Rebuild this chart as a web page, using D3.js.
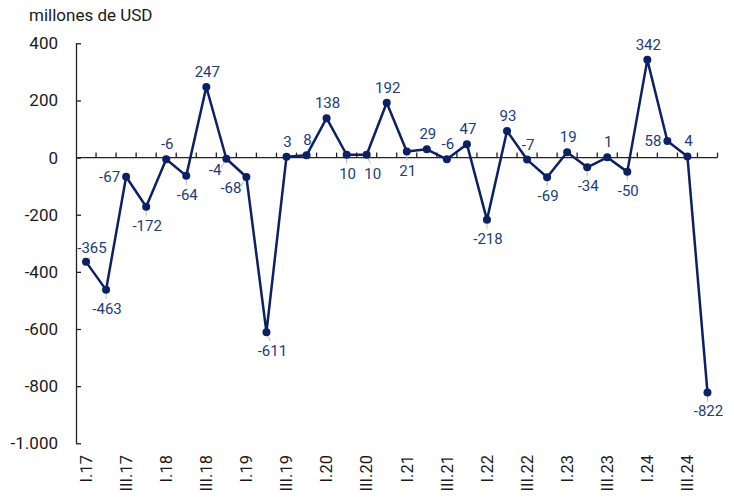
<!DOCTYPE html>
<html><head><meta charset="utf-8">
<script src="https://cdn.jsdelivr.net/npm/d3@7/dist/d3.min.js"></script>
<style>
body{margin:0;background:#fff;}
text{font-family:Roboto,"Noto Sans",sans-serif;}
</style></head>
<body><svg id="c" width="734" height="497"></svg>
<script>
const quarters = ["I.17","II.17","III.17","IV.17","I.18","II.18","III.18","IV.18","I.19","II.19","III.19","IV.19","I.20","II.20","III.20","IV.20","I.21","II.21","III.21","IV.21","I.22","II.22","III.22","IV.22","I.23","II.23","III.23","IV.23","I.24","II.24","III.24","IV.24"];
const values = [-365,-463,-67,-172,-6,-64,247,-4,-68,-611,3,8,138,10,10,192,21,29,-6,47,-218,93,-7,-69,19,-34,1,-50,342,58,4,-822];
const labelPlacement = ["ar","b","l","b","a","b","a","bl","bl","br","a","a","a","b","br","a","b","a","a","a","b","a","a","b","a","b","a","b","a","l","a","b"];
const yTicks = [400,200,0,-200,-400,-600,-800,-1000];
const unitLabel = "millones de USD";

const svg = d3.select("#c");
const x = d3.scaleBand().domain(quarters).range([76, 717.5]).padding(0);
const y = d3.scaleLinear().domain([-1000, 400]).range([443.3, 43.3]);
const cx = d => x(d) + x.bandwidth()/2;
const loc = d3.formatLocale({decimal:",", thousands:".", grouping:[3], currency:["",""], minus:"-"});
const fmt = loc.format(",d");

svg.append("text").attr("x", 29).attr("y", 21).attr("font-size", 17).attr("fill", "#1a1a1a").text(unitLabel);

// y axis
const yAxis = d3.axisLeft(y).tickValues(yTicks).tickFormat(fmt).tickSizeInner(-5).tickSizeOuter(0).tickPadding(18);
const gy = svg.append("g").attr("transform", "translate(76,0)").call(yAxis);
gy.select(".domain").attr("stroke", "#222").attr("stroke-width", 1.3);
gy.selectAll(".tick line").attr("stroke", "#222").attr("stroke-width", 1.3);
gy.selectAll(".tick text").attr("font-size", 17).attr("fill", "#1a1a1a").attr("font-family", "Roboto");

// x axis at zero
const y0 = y(0);
svg.append("line").attr("x1", 76).attr("x2", 717.5).attr("y1", y0).attr("y2", y0).attr("stroke", "#222").attr("stroke-width", 1.3);
svg.selectAll(".xt").data(quarters).enter().append("line")
  .attr("x1", d => x(d) + x.bandwidth()).attr("x2", d => x(d) + x.bandwidth())
  .attr("y1", y0).attr("y2", y0 - 5).attr("stroke", "#222").attr("stroke-width", 1.3);

// x labels (every other)
svg.selectAll(".xl").data(quarters.filter((d,i) => i % 2 === 0)).enter().append("text")
  .attr("transform", d => `translate(${cx(d)},455) rotate(-90)`)
  .attr("text-anchor", "end").attr("dy", "0.35em").attr("font-size", 16.5).attr("fill", "#1a1a1a")
  .text(d => d);

// line
const data = quarters.map((q,i) => ({q, v: values[i], p: labelPlacement[i]}));
svg.append("path").datum(data)
  .attr("d", d3.line().x(d => cx(d.q)).y(d => y(d.v)))
  .attr("fill", "none").attr("stroke", "#0c2163").attr("stroke-width", 2.5).attr("stroke-linejoin", "round");

// leader lines
const lead = {b:[0,3,0,9], br:[1,3,4,9], bl:[-2,3,-5,9], ar:[2,-2,5,-5]};
svg.selectAll(".ld").data(data.filter(d => lead[d.p])).enter().append("line")
  .attr("x1", d => cx(d.q) + lead[d.p][0]).attr("y1", d => y(d.v) + lead[d.p][1])
  .attr("x2", d => cx(d.q) + lead[d.p][2]).attr("y2", d => y(d.v) + lead[d.p][3])
  .attr("stroke", "#bbb").attr("stroke-width", 1);

svg.selectAll(".pt").data(data).enter().append("circle")
  .attr("cx", d => cx(d.q)).attr("cy", d => y(d.v)).attr("r", 4).attr("fill", "#0c2163");

const off = {
  a: {dx:1, dy:-10, a:"middle"},
  b: {dx:1, dy:24, a:"middle"},
  br:{dx:6, dy:24, a:"middle"},
  l: {dx:-6, dy:5, a:"end"},
  bl:{dx:-5, dy:16, a:"end"},
  ar:{dx:6, dy:-9, a:"middle"}
};
svg.selectAll(".dl").data(data).enter().append("text")
  .attr("x", d => cx(d.q) + off[d.p].dx).attr("y", d => y(d.v) + off[d.p].dy)
  .attr("text-anchor", d => off[d.p].a).attr("font-size", 15).attr("fill", "#203c7e")
  .text(d => fmt(d.v));
</script></body></html>
